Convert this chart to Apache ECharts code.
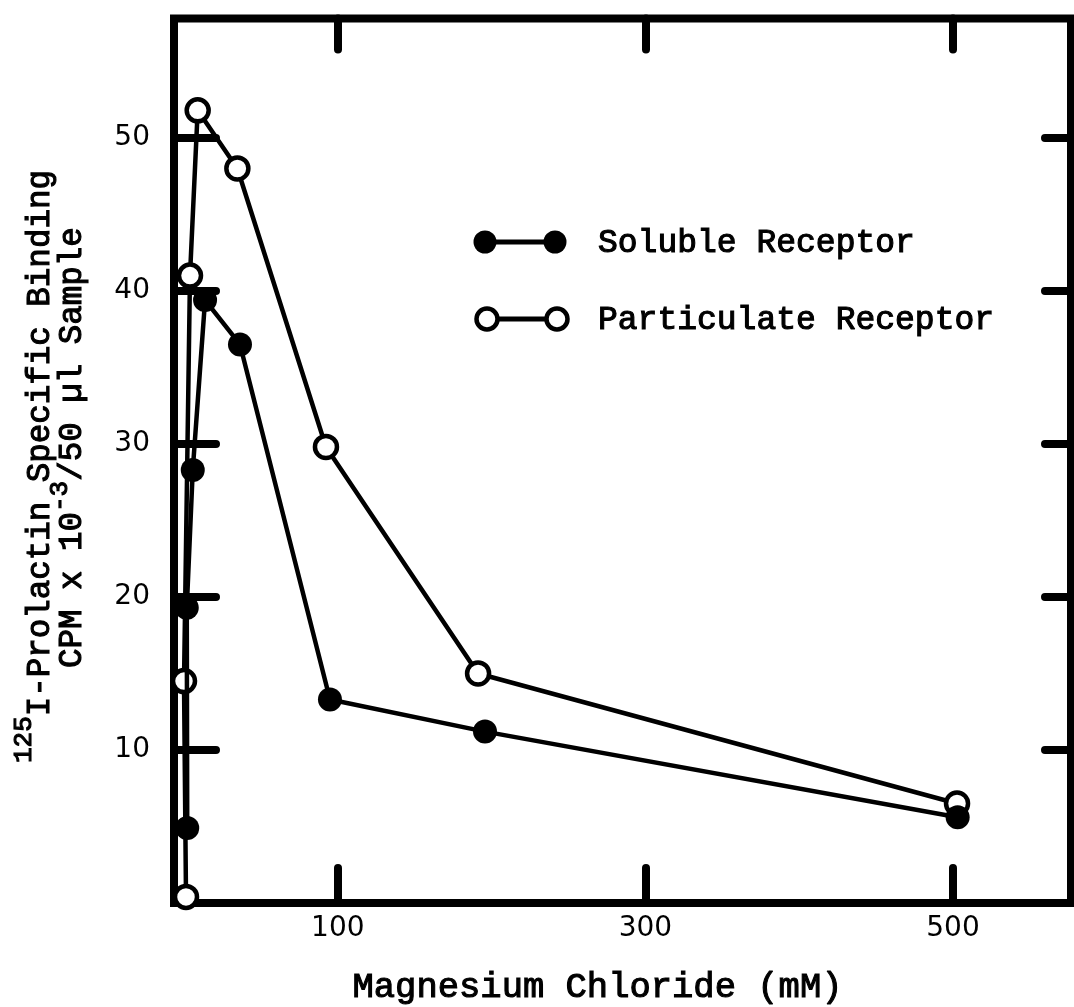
<!DOCTYPE html>
<html>
<head>
<meta charset="utf-8">
<script src="https://cdn.jsdelivr.net/npm/echarts@6/dist/echarts.min.js"></script>
<style>
  html, body { margin: 0; padding: 0; background: #ffffff; }
  #chart { width: 1074px; height: 1007px; }
</style>
</head>
<body>
<div id="chart"></div>
<script>
// Magnesium chloride concentration (mM) and specific binding (CPM x 10^-3 / 50 µl)
const solubleConc = [2.1, 1.8, 5.7, 13.7, 36.4, 94.9, 195.7, 503];
const solubleBinding = [4.9, 19.3, 28.3, 39.4, 36.5, 13.3, 11.2, 5.6];
const particulateConc = [1.3, 0, 3.9, 8.9, 34.7, 92.3, 191.2, 502.6];
const particulateBinding = [0.4, 14.5, 41.0, 51.8, 48.0, 29.8, 15.0, 6.5];

const xTickValues = [100, 300, 500];
const yTickValues = [10, 20, 30, 40, 50];
const seriesNames = ['Soluble Receptor', 'Particulate Receptor'];

const MONO = 'Liberation Mono';
const SANS = 'DejaVu Sans';
// typewriter lettering: regular face with a thin outline to darken the strokes
const MONO_TEXT = { fontFamily: MONO, fill: '#000', stroke: '#000', lineWidth: 1.1 };

function pairs(xs, ys) {
  return xs.map((x, i) => [x, ys[i]]);
}

// Rotated axis title built from runs of normal and raised text.
// Each run starts where the previous one ended (monospace advance = 0.6 em).
function rotatedRuns(startY, runs) {
  const out = [];
  let y = startY;
  runs.forEach(r => {
    out.push({
      type: 'text',
      x: r.x,
      y: y,
      rotation: Math.PI / 2,
      silent: true,
      style: Object.assign({}, MONO_TEXT, {
        text: r.text,
        fontSize: r.size,
        align: 'left',
        verticalAlign: 'middle'
      })
    });
    y -= r.text.length * 0.6 * r.size;
  });
  return out;
}

const chart = echarts.init(document.getElementById('chart'), null, { renderer: 'canvas' });

const tickStyle = { color: '#000', width: 8, cap: 'round' };
const noLine = { show: false, onZero: false };

const option = {
  animation: false,
  backgroundColor: '#ffffff',
  grid: {
    left: 174,
    top: 18.5,
    right: 3,
    bottom: 104,
    outerBoundsMode: 'none',
    containLabel: false,
    show: true,
    borderColor: '#000',
    borderWidth: 8,
    backgroundColor: 'transparent'
  },
  xAxis: [
    {
      type: 'value',
      position: 'bottom',
      min: -6.5,
      max: 576.7,
      axisLine: noLine,
      splitLine: { show: false },
      axisTick: { show: true, inside: true, length: 35, customValues: xTickValues, lineStyle: tickStyle },
      axisLabel: {
        show: true,
        customValues: xTickValues,
        margin: 12,
        fontFamily: SANS,
        fontSize: 28,
        color: '#000'
      },
      name: 'Magnesium Chloride (mM)',
      nameLocation: 'middle',
      nameGap: 67,
      nameTextStyle: {
        fontFamily: MONO,
        fontSize: 35.5,
        color: '#000',
        textBorderColor: '#000',
        textBorderWidth: 1.1,
        padding: [0, 50, 0, 0]
      }
    },
    {
      type: 'value',
      position: 'top',
      min: -6.5,
      max: 576.7,
      axisLine: noLine,
      splitLine: { show: false },
      axisTick: { show: true, inside: true, length: 31, customValues: xTickValues, lineStyle: tickStyle },
      axisLabel: { show: false }
    }
  ],
  yAxis: [
    {
      type: 'value',
      position: 'left',
      min: 0,
      max: 57.8,
      axisLine: noLine,
      splitLine: { show: false },
      axisTick: { show: true, inside: true, length: 42, customValues: yTickValues, lineStyle: tickStyle },
      axisLabel: {
        show: true,
        customValues: yTickValues,
        margin: 24,
        fontFamily: SANS,
        fontSize: 28,
        color: '#000'
      }
    },
    {
      type: 'value',
      position: 'right',
      min: 0,
      max: 57.8,
      axisLine: noLine,
      splitLine: { show: false },
      axisTick: { show: true, inside: true, length: 26, customValues: yTickValues, lineStyle: tickStyle },
      axisLabel: { show: false }
    }
  ],
  series: [
    {
      name: seriesNames[0],
      type: 'line',
      xAxisIndex: 0,
      yAxisIndex: 0,
      data: pairs(solubleConc, solubleBinding),
      symbol: 'circle',
      symbolSize: 24,
      clip: false,
      lineStyle: { color: '#000', width: 4.5 },
      itemStyle: { color: '#000', borderColor: '#000', borderWidth: 0 },
      emphasis: { disabled: true },
      z: 3
    },
    {
      name: seriesNames[1],
      type: 'line',
      xAxisIndex: 0,
      yAxisIndex: 0,
      data: pairs(particulateConc, particulateBinding),
      symbol: 'circle',
      symbolSize: 22,
      clip: false,
      lineStyle: { color: '#000', width: 4.5 },
      itemStyle: { color: '#fff', borderColor: '#000', borderWidth: 4.5 },
      emphasis: { disabled: true },
      z: 2
    }
  ],
  graphic: [
    // key: filled markers
    { type: 'line', silent: true, shape: { x1: 485, y1: 242, x2: 555, y2: 242 }, style: { stroke: '#000', lineWidth: 5 } },
    { type: 'circle', silent: true, shape: { cx: 485, cy: 242, r: 11.5 }, style: { fill: '#000' } },
    { type: 'circle', silent: true, shape: { cx: 555, cy: 242, r: 11.5 }, style: { fill: '#000' } },
    { type: 'text', silent: true, x: 598, y: 243, style: Object.assign({}, MONO_TEXT, { text: seriesNames[0], fontSize: 33, align: 'left', verticalAlign: 'middle' }) },
    // key: open markers
    { type: 'line', silent: true, shape: { x1: 487, y1: 319, x2: 557, y2: 319 }, style: { stroke: '#000', lineWidth: 5 } },
    { type: 'circle', silent: true, shape: { cx: 487, cy: 319, r: 10.5 }, style: { fill: '#fff', stroke: '#000', lineWidth: 4.5 } },
    { type: 'circle', silent: true, shape: { cx: 557, cy: 319, r: 10.5 }, style: { fill: '#fff', stroke: '#000', lineWidth: 4.5 } },
    { type: 'text', silent: true, x: 598, y: 320, style: Object.assign({}, MONO_TEXT, { text: seriesNames[1], fontSize: 33, align: 'left', verticalAlign: 'middle' }) }
  ]
    // y-axis title, first line
    .concat(rotatedRuns(763, [
      { text: '125', size: 26, x: 24 },
      { text: 'I-Prolactin Specific Binding', size: 32.5, x: 40 }
    ]))
    // y-axis title, second line
    .concat(rotatedRuns(668, [
      { text: 'CPM x 10', size: 32.5, x: 72 },
      { text: '-3', size: 26, x: 60 },
      { text: '/50 \u00b5l Sample', size: 32.5, x: 72 }
    ]))
};

chart.setOption(option);
</script>
</body>
</html>
